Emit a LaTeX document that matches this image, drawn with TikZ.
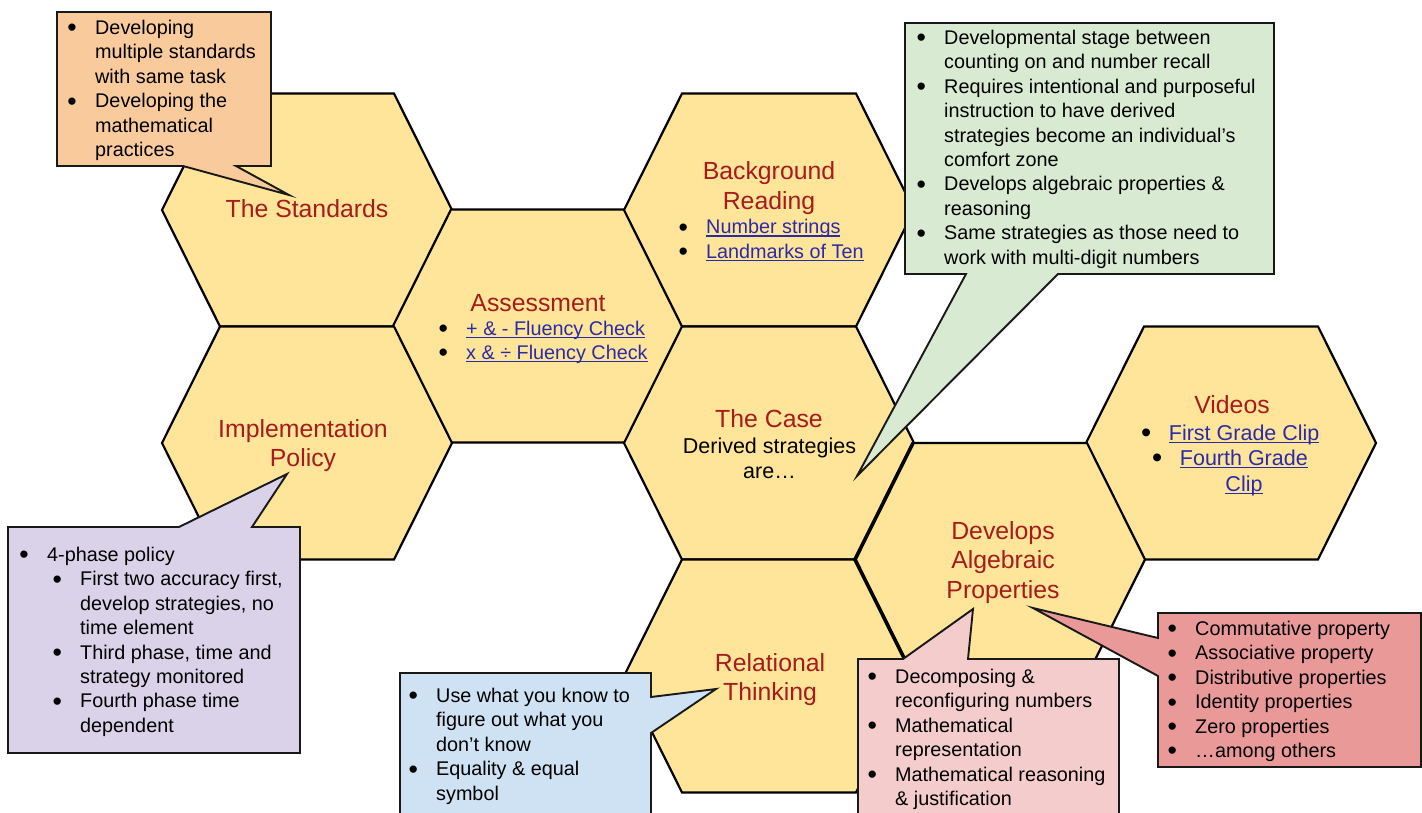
\documentclass[tikz,border=0pt]{standalone}
\usepackage{fontspec}
\setmainfont{Liberation Sans}
\definecolor{hexfill}{HTML}{FFE599}
\definecolor{titlec}{HTML}{A61C1C}
\definecolor{linkc}{HTML}{2B2BA8}
\definecolor{corange}{HTML}{F9CB9C}
\definecolor{cgreen}{HTML}{D9EAD3}
\definecolor{cpurple}{HTML}{D9D2E9}
\definecolor{cblue}{HTML}{CFE2F3}
\definecolor{cpink}{HTML}{F4CCCC}
\definecolor{cred}{HTML}{EA9999}
\newcommand\bul{\makebox[26.5pt][l]{\hspace*{-1.2pt}\raisebox{-2.4pt}{\scalebox{1.35}{\textbullet}}}}
\newcommand\lnk[1]{{\color{linkc}\setbox0\hbox{#1}\rlap{\rule[-2.8pt]{\wd0}{1.3pt}}\box0}}
\newcommand\lines[1]{\begin{tabular}[t]{@{}l@{}}#1\end{tabular}}
\newcommand\clines[1]{\begin{tabular}[t]{@{}c@{}}#1\end{tabular}}
\tikzset{
  hexs/.style={fill=hexfill, draw=black, line width=2.2pt, line join=miter},
  hexagon/.pic={\path[hexs] (-145,0) -- (-87,-116.5) -- (87,-116.5) -- (145,0) -- (87,116.5) -- (-87,116.5) -- cycle;},
  callout/.style={fill=#1, draw=black!90, line width=1.9pt, line join=miter},
  ttl/.style={inner sep=0pt, anchor=base, text=titlec, font=\fontsize{24.8}{29.5}\selectfont},
  body/.style={inner sep=0pt, anchor=base west, text=black, font=\fontsize{19.8}{24.4}\selectfont},
  bigbody/.style={inner sep=0pt, text=black, font=\fontsize{21.5}{25.8}\selectfont},
}
\begin{document}
\begin{tikzpicture}[x=1pt,y=-1pt]
\clip (0,0) rectangle (1422,813);
\fill[white] (0,0) rectangle (1422,813);

% hexagons
\pic at (307,210) {hexagon};
\pic at (538,326) {hexagon};
\pic at (769,210) {hexagon};
\pic at (307,443) {hexagon};
\pic at (769,443) {hexagon};
\pic at (769,676) {hexagon};
\pic at (1231,443) {hexagon};
\pic at (1000,559.5) {hexagon};
\draw[line width=3.6pt, line join=miter] (913,443) -- (855,559.5) -- (913,676);

% hexagon texts
\node[ttl] (tStd) at (307,218) {The Standards};
\node[ttl] (tBg) at (769,180) {\clines{Background\\Reading}};
\node[body] (lBg) at (679.5,234) {\lines{\bul\lnk{Number strings}\\ \bul\lnk{Landmarks of Ten}}};
\node[ttl] (tAs) at (538,311) {Assessment};
\node[body] (lAs) at (439.5,335) {\lines{\bul\lnk{+ \& - Fluency Check}\\ \bul\lnk{x \& ÷ Fluency Check}}};
\node[ttl] (tImp) at (303,437) {\clines{Implementation\\Policy}};
\node[ttl] (tCase) at (769,427) {The Case};
\node[bigbody, anchor=base] (bCase) at (769.5,453) {\clines{Derived strategies\\are…}};
\node[ttl] (tRel) at (770,671) {\clines{Relational\\Thinking}};
\node[ttl] (tDev) at (1003,539) {\clines{Develops\\Algebraic\\Properties}};
\node[ttl] (tVid) at (1232,413) {Videos};
\node[bigbody, anchor=base west] (lVid1) at (1142.2,440) {\bul\lnk{First Grade Clip}};
\node[bigbody, anchor=base west] (lVid2) at (1153.2,465.5) {\bul\lnk{Fourth Grade}};
\node[bigbody, anchor=base] (lVid3) at (1244,491) {\lnk{Clip}};

% callouts
\draw[callout=corange] (57,12) -- (271,12) -- (271,166) -- (236,166) -- (289,195) -- (183,166) -- (57,166) -- cycle;
\draw[callout=cgreen] (905,23) -- (1274,23) -- (1274,274) -- (1058,274) -- (857,476) -- (966,274) -- (905,274) -- cycle;
\draw[callout=cpurple] (8,527) -- (179,527) -- (287,474) -- (252,527) -- (300,527) -- (300,753) -- (8,753) -- cycle;
\draw[callout=cblue] (400,673) -- (651,673) -- (651,697) -- (716,689) -- (651,733) -- (651,830) -- (400,830) -- cycle;
\draw[callout=cpink] (858,659) -- (903,659) -- (973,609) -- (968,659) -- (1119,659) -- (1119,830) -- (858,830) -- cycle;
\draw[callout=cred] (1158,613) -- (1421,613) -- (1421,767) -- (1158,767) -- (1158,676) -- (1033,608) -- (1158,638) -- cycle;

% callout texts
\node[body] (cOr) at (68.5,34.5) {\lines{\bul Developing\\ \hspace*{26.5pt}multiple standards\\ \hspace*{26.5pt}with same task\\ \bul Developing the\\ \hspace*{26.5pt}mathematical\\ \hspace*{26.5pt}practices}};
\node[body] (cGr) at (917.5,44.5) {\lines{\bul Developmental stage between\\ \hspace*{26.5pt}counting on and number recall\\ \bul Requires intentional and purposeful\\ \hspace*{26.5pt}instruction to have derived\\ \hspace*{26.5pt}strategies become an individual’s\\ \hspace*{26.5pt}comfort zone\\ \bul Develops algebraic properties \&\\ \hspace*{26.5pt}reasoning\\ \bul Same strategies as those need to\\ \hspace*{26.5pt}work with multi-digit numbers}};
\node[body] (cPu) at (20.5,561.5) {\lines{\bul 4-phase policy\\ \hspace*{33pt}\bul First two accuracy first,\\ \hspace*{59.5pt}develop strategies, no\\ \hspace*{59.5pt}time element\\ \hspace*{33pt}\bul Third phase, time and\\ \hspace*{59.5pt}strategy monitored\\ \hspace*{33pt}\bul Fourth phase time\\ \hspace*{59.5pt}dependent}};
\node[body] (cBl) at (409.5,702.5) {\lines{\bul Use what you know to\\ \hspace*{26.5pt}figure out what you\\ \hspace*{26.5pt}don’t know\\ \bul Equality \& equal\\ \hspace*{26.5pt}symbol}};
\node[body] (cPk) at (868.5,683.5) {\lines{\bul Decomposing \&\\ \hspace*{26.5pt}reconfiguring numbers\\ \bul Mathematical\\ \hspace*{26.5pt}representation\\ \bul Mathematical reasoning\\ \hspace*{26.5pt}\& justification}};
\node[body] (cRd) at (1168.5,635.5) {\lines{\bul Commutative property\\ \bul Associative property\\ \bul Distributive properties\\ \bul Identity properties\\ \bul Zero properties\\ \bul …among others}};
\end{tikzpicture}
\end{document}
